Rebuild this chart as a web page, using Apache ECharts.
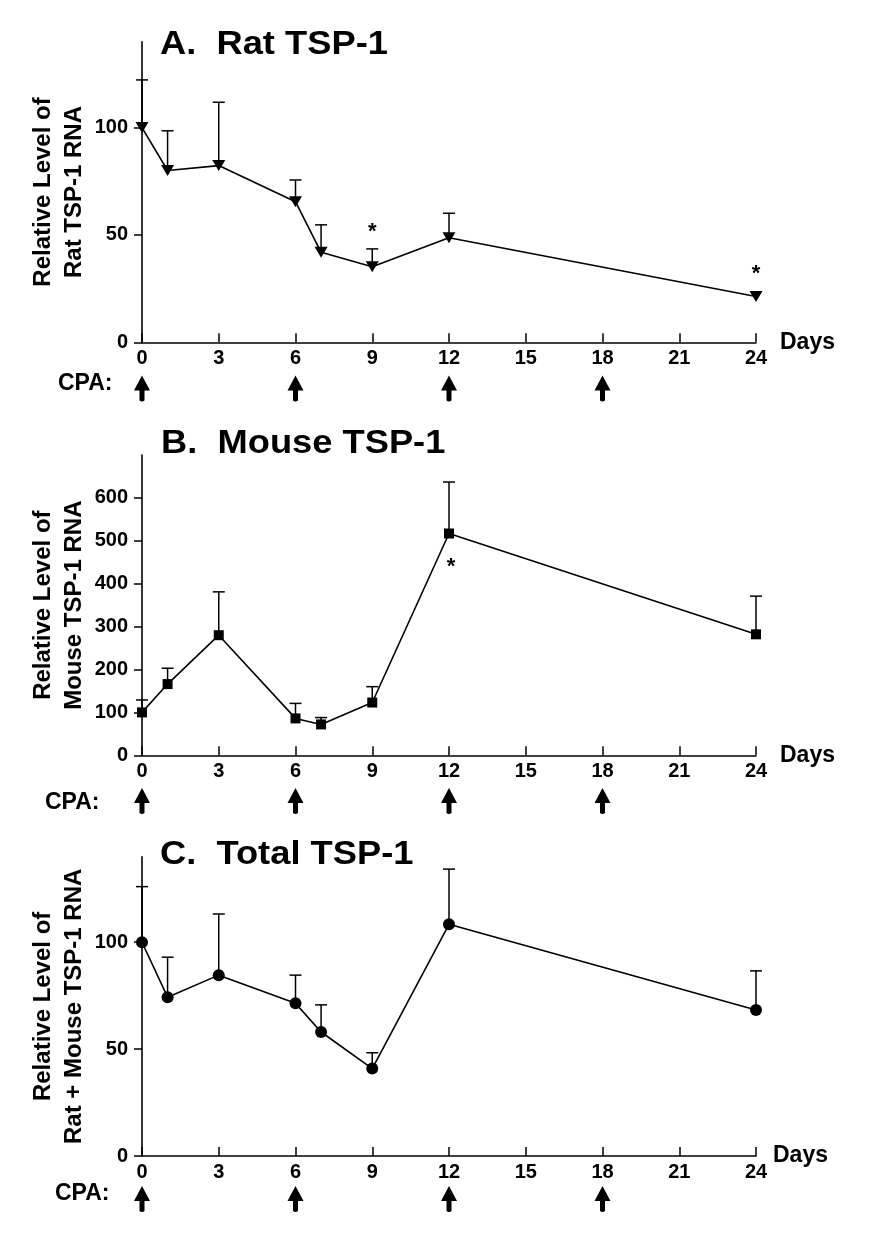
<!DOCTYPE html>
<html><head><meta charset="utf-8">
<script src="https://cdn.jsdelivr.net/npm/echarts@6/dist/echarts.min.js"></script>
<style>html,body{margin:0;padding:0;background:#fff}#c{width:872px;height:1256px}</style>
</head><body><div id="c"></div><script>
// ---- data ----
const days = [0, 1, 3, 6, 7, 9, 12, 24];
const ratMean = [100, 80, 82.3, 65.5, 41.9, 35.2, 48.7, 21.3];
const ratErr = [22.2, 18.5, 29.5, 10.1, 12.8, 8.3, 11.4, 0];
const mouseMean = [100, 166, 280, 86, 72, 123, 517, 282];
const mouseErr = [29, 37, 101, 35, 16, 37, 120, 89];
const totalMean = [100, 74.3, 84.6, 71.4, 58, 40.9, 108.4, 68.3];
const totalErr = [26, 18.7, 28.6, 13.2, 12.7, 7.4, 25.8, 18.3];
const cpaDays = [0, 6, 12, 18];
const starsRat = [9, 24];
const starsMouse = [12];
const starsTotal = [];
const xTicks = [0, 3, 6, 9, 12, 15, 18, 21, 24];
const yTicksRat = [0, 50, 100];
const yTicksMouse = [0, 100, 200, 300, 400, 500, 600];
const yTicksTotal = [0, 50, 100];
const panelTitles = ['A.  Rat TSP-1', 'B.  Mouse TSP-1', 'C.  Total TSP-1'];
const yNames = ['Relative Level of\nRat TSP-1 RNA', 'Relative Level of\nMouse TSP-1 RNA', 'Relative Level of\nRat + Mouse TSP-1 RNA'];
const xName = 'Days';
const cpaLabel = 'CPA:';

// ---- layout ----
const FONT = '"Liberation Sans", Arial, Helvetica, sans-serif';
const panels = [
  {mean: ratMean, err: ratErr, stars: starsRat, starBelow: false, yTicks: yTicksRat, ymax: 140, yint: 50,
   top: 41.7, axisY: 342.3, symbol: 'triangle', symbolRotate: 180, symbolSize: [13, 11],
   titleX: 160, titleY: 28.7, cpaX: 58, cpaY: 383.5, arrowC: 388.5, daysGap: 24, daysUp: 7},
  {mean: mouseMean, err: mouseErr, stars: starsMouse, starBelow: true, yTicks: yTicksMouse, ymax: 700, yint: 100,
   top: 455, axisY: 755.3, symbol: 'rect', symbolRotate: 0, symbolSize: 10,
   titleX: 161, titleY: 427.4, cpaX: 45, cpaY: 803, arrowC: 801, daysGap: 24, daysUp: 6},
  {mean: totalMean, err: totalErr, stars: starsTotal, starBelow: false, yTicks: yTicksTotal, ymax: 140, yint: 50,
   top: 856.7, axisY: 1156, symbol: 'circle', symbolRotate: 0, symbolSize: 12,
   titleX: 160, titleY: 838.7, cpaX: 55, cpaY: 1194, arrowC: 1199, daysGap: 17, daysUp: 11}
];
const LEFT = 142, RIGHT = 872 - 756;

const grid = [], xAxis = [], yAxis = [], series = [], graphic = [];
panels.forEach((p, k) => {
  grid.push({left: LEFT, right: RIGHT, top: p.top, height: p.axisY - p.top, containLabel: false});
  xAxis.push({
    gridIndex: k, type: 'value', min: 0, max: 24, interval: 3,
    axisLine: {lineStyle: {color: '#000', width: 1.6}},
    axisTick: {inside: true, length: 9, lineStyle: {color: '#000', width: 1.5}, customValues: xTicks},
    axisLabel: {color: '#000', fontSize: 20, fontWeight: 'bold', fontFamily: FONT, margin: 6, customValues: xTicks},
    splitLine: {show: false},
    name: xName, nameLocation: 'end', nameGap: p.daysGap, nameMoveOverlap: false,
    nameTextStyle: {color: '#000', fontSize: 23, fontWeight: 'bold', fontFamily: FONT, padding: [0, 0, p.daysUp * 2, 0]}
  });
  yAxis.push({
    gridIndex: k, type: 'value', min: 0, max: p.ymax, interval: p.yint,
    axisLine: {show: true, lineStyle: {color: '#000', width: 1.6}},
    axisTick: {show: true, length: 8, lineStyle: {color: '#000', width: 1.5}, customValues: p.yTicks},
    axisLabel: {color: '#000', fontSize: 20, fontWeight: 'bold', fontFamily: FONT, margin: 14, customValues: p.yTicks},
    splitLine: {show: false},
    name: yNames[k], nameLocation: 'middle', nameGap: 52, nameMoveOverlap: false,
    nameTextStyle: {color: '#000', fontSize: 24, fontWeight: 'bold', fontFamily: FONT, lineHeight: 31}
  });
  // error bars
  series.push({
    type: 'custom', xAxisIndex: k, yAxisIndex: k, z: 2, silent: true,
    data: days.map((d, i) => [d, p.mean[i], p.err[i]]),
    renderItem: function (params, api) {
      const err = api.value(2);
      if (!err) return null;
      const p0 = api.coord([api.value(0), api.value(1)]);
      const p1 = api.coord([api.value(0), api.value(1) + err]);
      const st = {stroke: '#000', lineWidth: 1.5};
      return {type: 'group', children: [
        {type: 'line', shape: {x1: p0[0], y1: p0[1], x2: p1[0], y2: p1[1]}, style: st},
        {type: 'line', shape: {x1: p1[0] - 6, y1: p1[1], x2: p1[0] + 6, y2: p1[1]}, style: st}
      ]};
    }
  });
  // mean line
  series.push({
    type: 'line', xAxisIndex: k, yAxisIndex: k, z: 3, silent: true,
    data: days.map((d, i) => [d, p.mean[i]]),
    symbol: p.symbol, symbolRotate: p.symbolRotate, symbolSize: p.symbolSize, showSymbol: true,
    itemStyle: {color: '#000', borderWidth: 0, opacity: 1}, lineStyle: {color: '#000', width: 1.6}
  });
  // significance stars
  series.push({
    type: 'custom', xAxisIndex: k, yAxisIndex: k, z: 4, silent: true,
    data: p.stars.map(d => { const i = days.indexOf(d); return [d, p.mean[i] + (p.starBelow ? 0 : p.err[i]), p.err[i]]; }),
    renderItem: function (params, api) {
      const pt = api.coord([api.value(0), api.value(1)]);
      let dy, dx = 0;
      if (p.starBelow) { dy = 28; dx = 2; } else { dy = api.value(2) ? -22 : -28; }
      return {type: 'text', x: pt[0] + dx, y: pt[1] + dy + 5,
        style: {text: '*', font: 'bold 22px ' + FONT, fill: '#000', align: 'center', verticalAlign: 'middle',
                textAlign: 'center', textVerticalAlign: 'middle'}};
    }
  });
  // titles and CPA label
  graphic.push({type: 'text', x: p.titleX, y: p.titleY, scaleX: 1.1, silent: true,
    style: {text: panelTitles[k], font: 'bold 33px ' + FONT, fill: '#000', align: 'left', verticalAlign: 'top',
            textAlign: 'left', textVerticalAlign: 'top'}});
  graphic.push({type: 'text', x: p.cpaX, y: p.cpaY, silent: true,
    style: {text: cpaLabel, font: 'bold 23px ' + FONT, fill: '#000', align: 'left', verticalAlign: 'middle',
            textAlign: 'left', textVerticalAlign: 'middle'}});
});
// arrow rows (CPA doses)
panels.forEach((p, k) => {
  const gi = grid.length;
  grid.push({left: LEFT, right: RIGHT, top: p.arrowC - 13, height: 26});
  xAxis.push({gridIndex: gi, type: 'value', min: 0, max: 24, show: false});
  yAxis.push({gridIndex: gi, type: 'value', min: 0, max: 1, show: false});
  series.push({
    type: 'scatter', xAxisIndex: gi, yAxisIndex: gi, silent: true,
    data: cpaDays.map(d => [d, 0.5]),
    symbol: 'path://M8,0 L16,15 L10.5,15 L10.5,25 Q8,27 5.5,25 L5.5,15 L0,15 Z',
    symbolSize: [16, 26], itemStyle: {color: '#000', opacity: 1}
  });
});

const chart = echarts.init(document.getElementById('c'), null, {renderer: 'canvas'});
chart.setOption({animation: false, backgroundColor: '#fff', textStyle: {fontFamily: FONT},
  grid, xAxis, yAxis, series, graphic});
</script></body></html>
